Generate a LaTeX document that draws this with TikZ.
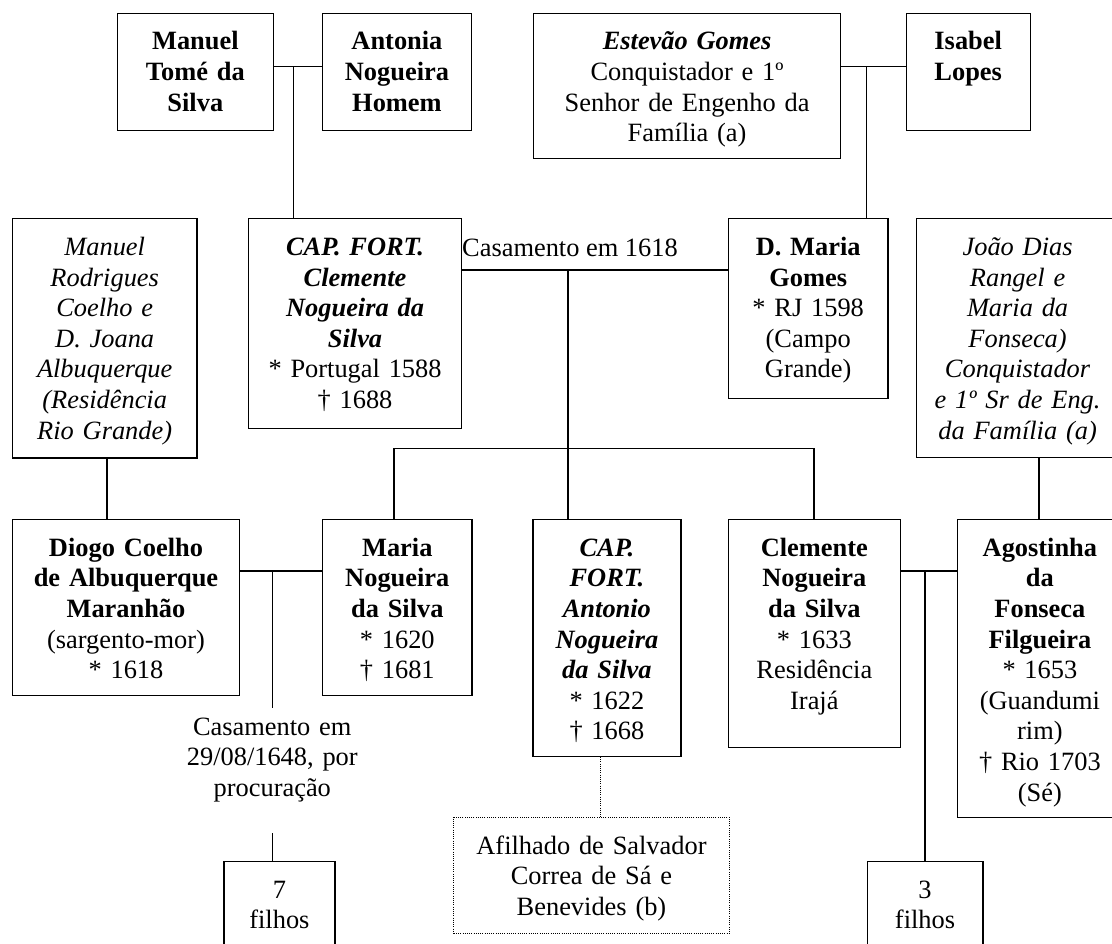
\documentclass[tikz,border=0pt]{standalone}
\usepackage{fontspec}
\setmainfont{Liberation Serif}
\tikzset{
  box/.style={draw=black, line width=1.2pt, inner sep=0pt},
  dotbox/.style={draw=black, line width=1pt, dash pattern=on 1pt off 1.2pt, inner sep=0pt},
  txt/.style={inner sep=0pt, align=center, font=\fontsize{26.4pt}{30.6pt}\selectfont},
  conn/.style={line width=1.6pt},
  dotconn/.style={line width=1pt, dash pattern=on 1pt off 1.2pt},
}
\newcommand\famnode[7]{%
  \pgfmathsetmacro\famW{#4-#2}%
  \pgfmathsetmacro\famH{#5-#3}%
  \pgfmathsetmacro\famT{#4-#2+40}%
  \node[#6, minimum width=\famW pt, minimum height=\famH pt, anchor=north west] (#1) at (#2,#3) {};
  \node[txt, text width=\famT pt, anchor=base] (#1-t) at ([yshift=-37.3pt]#1.north) {#7};
}
\begin{document}
\begin{tikzpicture}[x=1pt,y=-1pt]
\useasboundingbox (0,0) rectangle (1112,944);
\clip (0,0) rectangle (1112,944);
\fill[white] (0,0) rectangle (1112,944);

% generation 1
\famnode{mt}{117}{12.7}{272.5}{130}{box}{\textbf{Manuel}\\\textbf{Tomé da}\\\textbf{Silva}}
\famnode{an}{322}{12.7}{470.7}{130}{box}{\textbf{Antonia}\\\textbf{Nogueira}\\\textbf{Homem}}
\famnode{eg}{533.2}{12.7}{839.8}{157.7}{box}{\textbf{\textit{Estevão Gomes}}\\Conquistador e 1º\\Senhor de Engenho da\\Família (a)}
\famnode{il}{905.5}{12.7}{1029.7}{130}{box}{\textbf{Isabel}\\\textbf{Lopes}}

% generation 2
\famnode{mr}{11.8}{218.3}{196.4}{457.3}{box}{\textit{Manuel}\\\textit{Rodrigues}\\\textit{Coelho e}\\\textit{D. Joana}\\\textit{Albuquerque}\\\textit{(Residência}\\\textit{Rio Grande)}}
\famnode{cl}{248.2}{218.3}{460.7}{428}{box}{\textbf{\textit{CAP. FORT.}}\\\textbf{\textit{Clemente}}\\\textbf{\textit{Nogueira da}}\\\textbf{\textit{Silva}}\\{}* Portugal 1588\\{}† 1688}
\famnode{dm}{727.9}{218.3}{887.3}{397.7}{box}{\textbf{D. Maria}\\\textbf{Gomes}\\{}* RJ 1598\\(Campo\\Grande)}
\famnode{jd}{915.7}{218.3}{1118.3}{456.7}{box}{\textit{João Dias}\\\textit{Rangel e}\\\textit{Maria da}\\\textit{Fonseca)}\\\textit{Conquistador}\\\textit{e 1º Sr de Eng.}\\\textit{da Família (a)}}

% generation 3
\famnode{dg}{11.8}{519}{239}{695}{box}{\textbf{Diogo Coelho}\\\textbf{de Albuquerque}\\\textbf{Maranhão}\\(sargento-mor)\\{}* 1618}
\famnode{mn}{322}{519}{471.4}{695}{box}{\textbf{Maria}\\\textbf{Nogueira}\\\textbf{da Silva}\\{}* 1620\\{}† 1681}
\famnode{ant}{532.3}{519}{680.3}{755.7}{box}{\textbf{\textit{CAP.}}\\\textbf{\textit{FORT.}}\\\textbf{\textit{Antonio}}\\\textbf{\textit{Nogueira}}\\\textbf{\textit{da Silva}}\\{}* 1622\\{}† 1668}
\famnode{cn}{727.5}{519}{900}{746.7}{box}{\textbf{Clemente}\\\textbf{Nogueira}\\\textbf{da Silva}\\{}* 1633\\Residência\\Irajá}
\famnode{ag}{956.7}{519}{1121.9}{816.7}{box}{\textbf{Agostinha}\\\textbf{da}\\\textbf{Fonseca}\\\textbf{Filgueira}\\{}* 1653\\(Guandumi\\rim)\\{}† Rio 1703\\(Sé)}

% bottom
\famnode{af}{453.3}{816.7}{728.7}{933.3}{dotbox}{Afilhado de Salvador\\Correa de Sá e\\Benevides (b)}
\famnode{f7}{223.3}{861}{334.3}{960}{box}{7\\filhos}
\famnode{f3}{866.6}{861}{982.3}{960}{box}{3\\filhos}

% labels
\node[txt, anchor=base west] (c1618) at (462,256.7) {Casamento em 1618};
\node[txt, text width=250pt, anchor=base] (c1648) at (272.3,735) {Casamento em\\29/08/1648, por\\procuração};

% connectors
\draw[conn] ([yshift=-54pt]mt.north east) -- ([yshift=-54pt]an.north west);
\coordinate (j1) at (293.6,66.7);
\draw[conn] (j1) -- (j1 |- cl.north);
\draw[conn] ([yshift=-54pt]eg.north east) -- ([yshift=-54pt]il.north west);
\coordinate (j2) at (866.3,66.7);
\draw[conn] (j2) -- (j2 |- dm.north);
\draw[conn] ([yshift=-52pt]cl.north east) -- ([yshift=-52pt]dm.north west);
\coordinate (j3) at (568.2,270.3);
\draw[conn] (j3) -- (j3 |- ant.north);
\coordinate (b1) at (394,448.3);
\coordinate (b2) at (813.75,448.3);
\draw[conn] (b1 |- mn.north) -- (b1) -- (b2) -- (b2 |- cn.north);
\coordinate (j7) at (107,457.3);
\draw[conn] (j7 |- mr.south) -- (j7 |- dg.north);
\draw[conn] ([yshift=-52pt]dg.north east) -- ([yshift=-52pt]mn.north west);
\coordinate (j4) at (272.5,571);
\coordinate (e4) at (272.5,708.3);
\draw[conn] (j4) -- (e4);
\coordinate (s7) at (272.3,833.3);
\draw[conn] (s7) -- (s7 |- f7.north);
\draw[conn] ([yshift=-51.7pt]cn.north east) -- ([yshift=-51.7pt]ag.north west);
\coordinate (j5) at (925,570.7);
\draw[conn] (j5) -- (j5 |- f3.north);
\coordinate (j6) at (1039,456.7);
\draw[conn] (j6 |- jd.south) -- (j6 |- ag.north);
\coordinate (j8) at (600.7,755.7);
\draw[dotconn] (j8 |- ant.south) -- (j8 |- af.north);
\end{tikzpicture}
\end{document}
